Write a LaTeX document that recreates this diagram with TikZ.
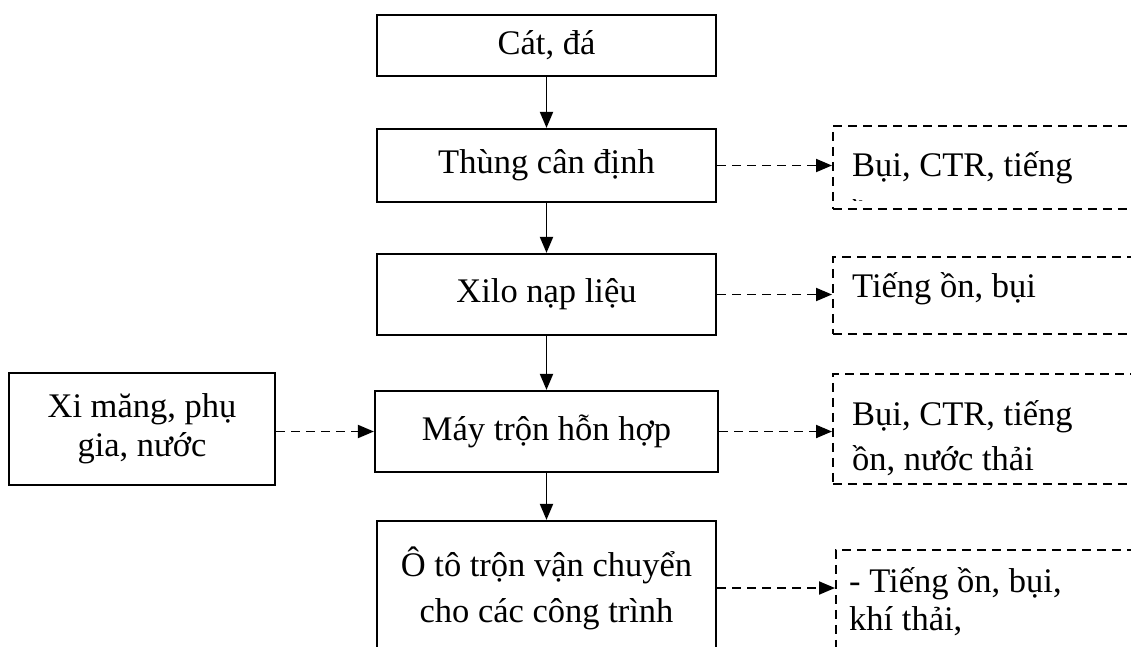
\documentclass[tikz,border=0pt]{standalone}
\usepackage{fontspec}
\setmainfont{Liberation Serif}
\usetikzlibrary{arrows.meta}
\begin{document}
\begin{tikzpicture}[x=1pt,y=-1pt,
  box/.style={draw, line width=2.2pt, minimum width=339pt, inner sep=0pt, align=center, font=\fontsize{34.5pt}{46pt}\selectfont},
  dbox/.style={draw, line width=1.8pt, dash pattern=on 9pt off 6pt, anchor=north west, inner sep=0pt},
  txt/.style={anchor=base west, inner sep=0pt, font=\fontsize{34.5pt}{45pt}\selectfont},
  flow/.style={line width=1.9pt, -{Triangle[length=16pt,width=13pt]}},
  dflow/.style={flow, dash pattern=on 9pt off 6pt}]
\clip (0,0) rectangle (1131,646);
\fill[white] (0,0) rectangle (1131,646);
% main column
\node[box, minimum height=61pt] (cat) at (546.5,45.5) {Cát, đá};
\node[box, minimum height=73pt] (thung) at (546.5,165.5) {Thùng cân định};
\node[box, minimum height=81pt] (xilo) at (546.5,294.5) {Xilo nạp liệu};
\node[box, minimum height=81pt, minimum width=343pt] (may) at (546.5,431.5) {Máy trộn hỗn hợp};
\node[box, minimum height=134pt] (oto) at (546.5,588) {Ô tô trộn vận chuyển\\cho các công trình};
\node[box, minimum height=112pt, minimum width=266pt, font=\fontsize{34.5pt}{39pt}\selectfont] (xm) at (142,429) {Xi măng, phụ\\gia, nước};
% dashed boxes
\node[dbox, minimum width=308pt, minimum height=83pt] (r1) at (832,125) {};
\node[dbox, minimum width=308pt, minimum height=77pt] (r2) at (832,256) {};
\node[dbox, minimum width=308pt, minimum height=110pt] (r3) at (832,373) {};
\node[dbox, minimum width=305pt, minimum height=110pt] (r4) at (835,549) {};
% texts in dashed boxes
\node[txt] (t1) at (852,176) {Bụi, CTR, tiếng};
\begin{scope}
\clip (852,125) rectangle (874,200);
\node[txt] (t1b) at (852,224) {ồn, nước thải};
\end{scope}
\node[txt] (t2) at (852,297) {Tiếng ồn, bụi};
\node[txt] (t3) at (852,425) {Bụi, CTR, tiếng};
\node[txt] (t3b) at (852,470) {ồn, nước thải};
\node[txt] (t4) at (849,592) {- Tiếng ồn, bụi,};
\node[txt] (t4b) at (849,630) {khí thải,};
% connectors
\draw[flow] (cat) -- (thung);
\draw[flow] (thung) -- (xilo);
\draw[flow] (xilo) -- (may);
\draw[flow] (may) -- (oto);
\draw[dflow] (thung.east) -- (thung.east -| r1.west);
\draw[dflow] (xilo.east) -- (xilo.east -| r2.west);
\draw[dflow] (may.east) -- (may.east -| r3.west);
\draw[dflow] (oto.east) -- (oto.east -| r4.west);
\draw[dflow] (xm.east |- may.west) -- (may.west);
\end{tikzpicture}
\end{document}
